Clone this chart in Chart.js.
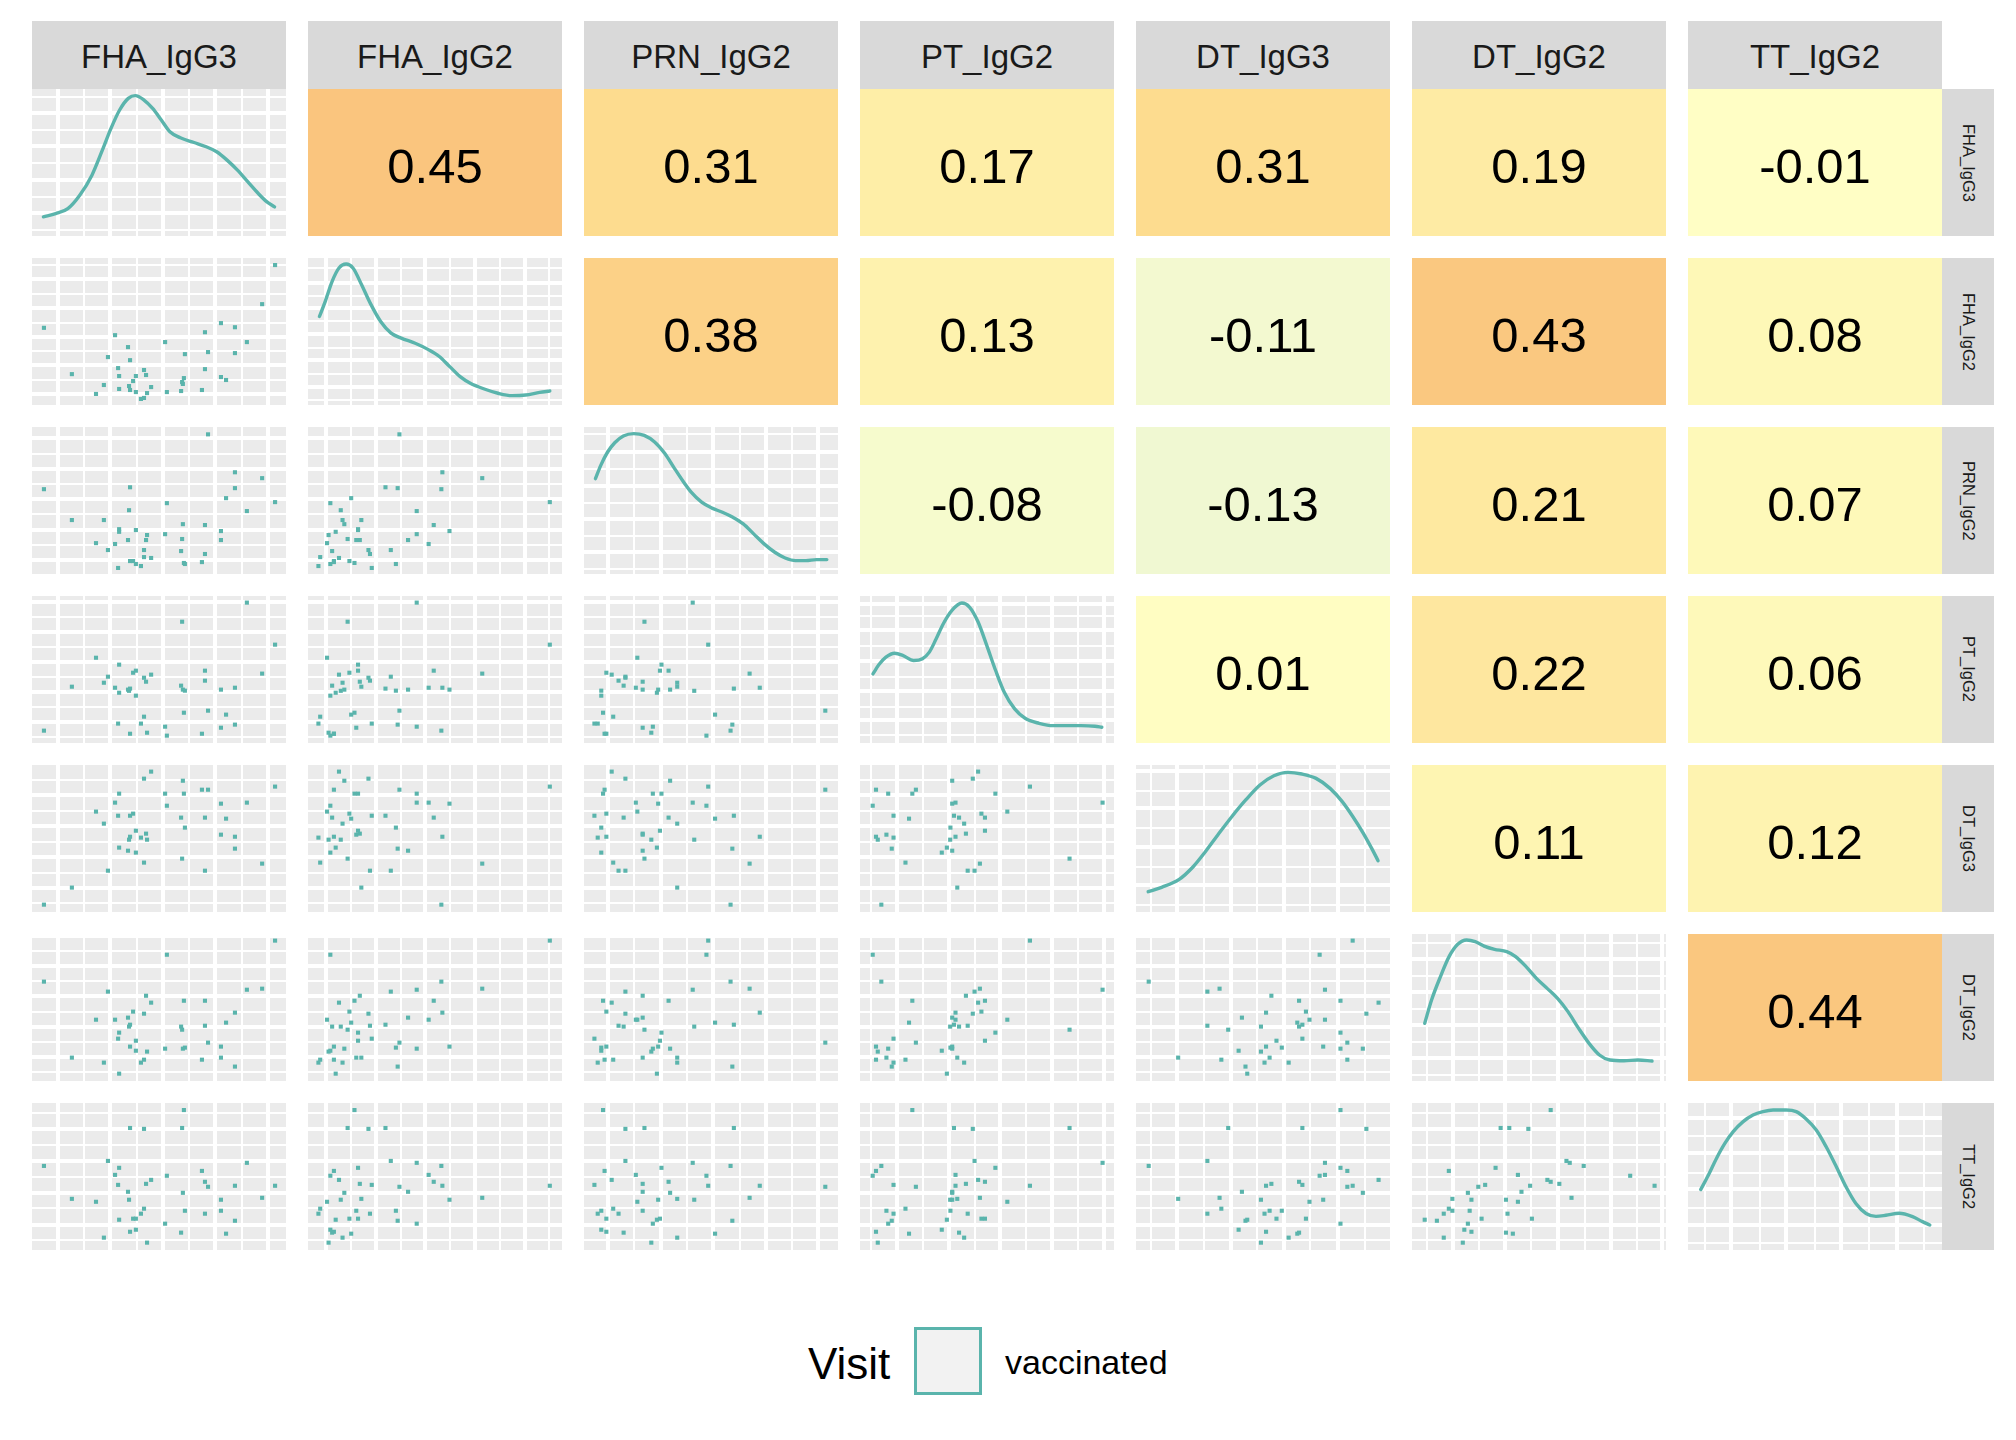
<!DOCTYPE html>
<html><head><meta charset="utf-8">
<script src="https://cdn.jsdelivr.net/npm/chart.js@4.4.1/dist/chart.umd.min.js"></script>
<style>
html,body{margin:0;padding:0;background:#fff;}
body{width:2016px;height:1440px;position:relative;overflow:hidden;font-family:"Liberation Sans",Arial,sans-serif;}
canvas{position:absolute;}
.stripT{position:absolute;background:#D9D9D9;color:#1A1A1A;font-size:33px;display:flex;align-items:center;justify-content:center;padding-top:3px;box-sizing:border-box;}
.stripR{position:absolute;background:#D9D9D9;color:#1A1A1A;font-size:16.5px;display:flex;align-items:center;justify-content:center;writing-mode:vertical-rl;}
.txt{position:absolute;color:#000;line-height:1;white-space:nowrap;}
</style></head><body>
<script>
// ---------------- DATA ----------------
const varNames = ['FHA_IgG3','FHA_IgG2','PRN_IgG2','PT_IgG2','DT_IgG3','DT_IgG2','TT_IgG2'];
const legendTitle = 'Visit';
const legendLevels = ['vaccinated'];

// observations (41 subjects), values on each panel's own scale (0-100)
const FHA_IgG3 = [4.7,15.7,25.2,28.3,29.9,32.7,33.9,34.3,34.3,37.8,38.2,38.6,38.6,39.8,40.9,40.9,42.9,44.1,44.1,44.9,45.3,46.9,52.4,53.1,58.7,59.1,59.4,59.8,60.2,66.9,68.1,68.1,69.3,74.4,74.4,76.4,79.9,79.9,84.6,90.6,95.7];
const FHA_IgG2 = [52.5,21.0,7.5,13.6,32.6,47.5,25.1,19.7,10.9,39.4,12.9,30.5,10.2,16.3,19.7,8.8,4.1,23.8,4.8,20.4,8.1,12.2,42.8,8.8,9.5,15.6,14.3,18.3,34.6,10.2,49.5,24.4,36.0,55.7,19.0,17.0,52.9,35.3,42.8,68.6,95.2];
const PRN_IgG2 = [57.7,36.7,21.0,36.7,16.3,20.4,4.1,30.5,28.7,23.1,43.4,59.0,8.8,8.8,29.9,6.8,5.4,16.3,11.5,23.1,26.5,10.9,27.1,48.2,15.6,23.8,33.9,7.5,6.8,8.1,33.3,13.6,95.0,29.2,23.1,51.6,69.2,58.4,42.8,65.2,48.9];
const PT_IgG2 = [8.4,38.3,58.0,41.0,45.1,37.6,13.2,53.3,34.2,36.3,35.5,37.0,6.3,47.8,49.2,32.2,13.2,44.4,17.9,41.7,7.0,46.5,11.1,5.0,39.0,82.5,36.3,20.6,35.6,6.3,49.2,42.4,22.0,36.3,10.4,19.3,37.6,12.5,95.5,47.2,66.9];
const DT_IgG3 = [5.0,16.6,68.3,60.1,28.1,74.4,65.5,80.5,43.8,41.7,49.2,65.5,51.2,66.9,55.3,40.4,50.6,90.7,33.6,53.3,49.2,95.5,80.5,72.3,64.2,36.3,89.3,80.5,57.4,83.2,64.2,28.1,83.2,73.7,52.6,63.5,51.2,43.1,74.4,32.9,85.3];
const DT_IgG2 = [67.6,15.9,41.7,12.5,60.8,41.7,28.8,32.9,5.0,43.1,37.0,38.3,23.4,47.2,27.4,20.6,12.5,45.8,14.5,58.0,20.0,53.3,22.0,85.9,37.0,34.9,22.0,54.6,22.7,14.5,54.6,37.6,26.1,23.4,15.9,39.7,46.5,9.8,62.1,62.8,95.5];
const TT_IgG2 = [57.2,34.8,32.8,8.4,60.6,51.1,44.3,55.9,20.6,39.6,34.2,83.0,12.4,21.3,21.3,13.8,24.7,82.4,28.1,45.0,5.0,47.7,17.9,50.5,11.8,83.0,38.9,95.2,26.7,53.8,46.4,24.7,43.0,34.2,26.7,11.1,43.7,19.9,59.3,35.5,43.7];

// density curves (diagonal), x on variable scale, y on density scale (0-100)
const densFHA_IgG3_x = [4.5,9.3,14.1,18.8,23.6,27.7,31.1,34.5,37.9,40.7,44.1,47.5,50.9,54.3,58.4,63.8,68.6,72.7,76.8,80.9,85.0,89.1,92.5,95.5];
const densFHA_IgG3_y = [13.0,15.2,18.6,27.7,41.4,58.4,73.2,85.7,93.6,95.5,92.5,86.8,78.9,70.9,66.8,63.6,60.7,57.3,51.6,44.8,36.8,28.9,23.2,19.8];
const densFHA_IgG2_x = [4.5,6.8,9.5,12.2,15.0,17.7,21.1,24.5,28.6,32.7,36.7,42.2,47.6,51.7,55.8,59.9,63.9,69.4,74.8,80.3,85.7,91.2,95.2];
const densFHA_IgG2_y = [60.2,70.5,84.1,93.2,95.9,93.2,81.8,69.3,56.8,48.9,45.5,42.0,37.5,33.0,26.1,19.3,14.8,10.9,8.0,6.4,6.8,8.6,9.5];
const densPRN_IgG2_x = [4.5,6.6,9.3,12.1,15.5,19.6,23.7,27.8,31.9,35.3,38.8,42.2,46.3,50.4,54.5,58.6,62.7,66.8,70.9,75.1,79.2,83.3,87.4,91.5,95.6];
const densPRN_IgG2_y = [64.8,73.9,83.0,89.3,93.9,95.5,94.3,89.8,81.8,72.7,63.6,55.7,48.9,44.8,42.0,38.6,34.1,27.3,20.5,14.8,10.9,9.1,9.1,9.8,9.8];
const densPT_IgG2_x = [5.1,7.4,10.2,13.6,17.0,21.1,24.6,27.3,30.0,32.8,36.2,40.1,43.1,46.5,49.9,53.4,56.8,60.9,65.0,70.5,76.0,81.5,87.0,92.5,95.2];
const densPT_IgG2_y = [47.0,53.2,58.4,61.1,59.5,56.1,57.3,61.8,70.9,81.1,90.2,95.2,92.5,82.3,66.4,49.3,34.5,23.2,16.8,13.4,11.8,11.8,11.8,11.4,10.7];
const densDT_IgG3_x = [4.8,10.1,17.0,22.5,27.3,32.2,37.7,43.2,48.8,54.3,59.8,65.3,70.9,76.4,81.2,85.4,89.5,93.0,95.3];
const densDT_IgG3_y = [13.8,16.8,22.2,30.8,41.0,52.4,64.8,76.2,86.4,92.7,95.0,93.9,90.9,84.1,75.1,64.8,53.5,42.6,34.9];
const densDT_IgG2_x = [5.0,7.7,11.2,14.6,18.0,21.5,24.9,28.4,32.5,37.3,40.8,44.9,49.0,53.2,57.3,61.4,65.6,69.7,73.8,77.9,83.5,89.0,94.5];
const densDT_IgG2_y = [39.2,55.1,71.0,84.6,93.0,95.9,94.8,91.8,89.6,88.0,84.6,77.8,69.8,63.0,56.2,47.2,35.8,25.6,17.7,14.3,13.8,14.3,13.6];
const densTT_IgG2_x = [5.0,8.0,11.2,14.5,17.8,21.7,25.6,29.5,33.5,38.7,42.6,46.3,50.5,54.4,58.4,62.2,66.1,70.1,74.0,77.9,83.1,88.4,92.3,95.2];
const densTT_IgG2_y = [41.1,50.9,62.3,72.5,80.5,87.3,91.8,94.1,95.2,95.2,94.1,89.5,81.6,70.2,56.6,43.0,31.6,24.8,22.9,23.6,25.0,22.7,19.3,17.0];

// correlations (upper triangle), row variable vs following variables
const corrFHA_IgG3 = [0.45, 0.31, 0.17, 0.31, 0.19, -0.01];
const corrFHA_IgG2 = [0.38, 0.13, -0.11, 0.43, 0.08];
const corrPRN_IgG2 = [-0.08, -0.13, 0.21, 0.07];
const corrPT_IgG2 = [0.01, 0.22, 0.06];
const corrDT_IgG3 = [0.11, 0.12];
const corrDT_IgG2 = [0.44];

// axis break positions (major / minor) per variable, and density-axis breaks
const breaksFHA_IgG3 = {major:[10.2,30.7,51.6,72.0,92.9], minor:[20.5,41.2,61.7,82.6]};
const breaksFHA_IgG2 = {major:[7.2,26.9,46.2,65.8,85.5], minor:[17.0,36.7,56.1,75.6,95.0]};
const breaksPRN_IgG2 = {major:[9.5,30.2,50.9,71.6,92.3], minor:[19.85,40.55,61.25,81.95]};
const breaksPT_IgG2 = {major:[14.5,34.9,55.3,75.7,96.1], minor:[4.3,24.7,45.1,65.5,85.9]};
const breaksDT_IgG3 = {major:[16.3,37.4,58.3,79.6], minor:[5.9,26.8,47.6,68.7,90.0]};
const breaksDT_IgG2 = {major:[16.3,36.7,57.6,78.2,98.6], minor:[5.9,26.5,46.9,68.0,88.4]};
const breaksTT_IgG2 = {major:[17.0,38.7,60.4,82.1], minor:[6.6,28.3,50.0,71.3,93.0]};
const densBreaksFHA_IgG3 = [4.1,15.5,26.8,38.2,49.8,60.9,72.3,83.6,94.5];
const densBreaksFHA_IgG2 = [3.6,12.5,21.4,30.5,39.1,48.2,57.3,65.9,74.1,83.2,93.2];
const densBreaksPRN_IgG2 = [3.2,14.8,25.9,37.5,48.2,59.8,71.4,82.7,95.2];
const densBreaksPT_IgG2 = [5.5,15.5,24.8,35.2,45.0,55.9,65.9,77.0,86.4,94.8];
const densBreaksDT_IgG3 = [5.0,18.1,30.8,44.0,56.9,70.5,82.5,95.7];
const densBreaksDT_IgG2 = [4.3,15.5,26.7,37.9,49.1,60.3,71.5,82.7,93.9];
const densBreaksTT_IgG2 = [5.0,17.3,28.6,41.6,52.7,65.7,77.7,89.8];

// ---------------- assemble ----------------
const values = [FHA_IgG3, FHA_IgG2, PRN_IgG2, PT_IgG2, DT_IgG3, DT_IgG2, TT_IgG2];
const densX = [densFHA_IgG3_x, densFHA_IgG2_x, densPRN_IgG2_x, densPT_IgG2_x, densDT_IgG3_x, densDT_IgG2_x, densTT_IgG2_x];
const densY = [densFHA_IgG3_y, densFHA_IgG2_y, densPRN_IgG2_y, densPT_IgG2_y, densDT_IgG3_y, densDT_IgG2_y, densTT_IgG2_y];
const corrRows = [corrFHA_IgG3, corrFHA_IgG2, corrPRN_IgG2, corrPT_IgG2, corrDT_IgG3, corrDT_IgG2];
const breaks = [breaksFHA_IgG3, breaksFHA_IgG2, breaksPRN_IgG2, breaksPT_IgG2, breaksDT_IgG3, breaksDT_IgG2, breaksTT_IgG2];
const densBreaks = [densBreaksFHA_IgG3, densBreaksFHA_IgG2, densBreaksPRN_IgG2, densBreaksPT_IgG2, densBreaksDT_IgG3, densBreaksDT_IgG2, densBreaksTT_IgG2];

const TEAL = '#5AB4AC';
const LAY = {x0:32, y0:89, dx:276, dy:169, w:254, h:147, stripTop:21, stripH:68, stripRW:52};

Chart.defaults.font.family = '"Liberation Sans", Arial, sans-serif';

const colorStops = [
  [-0.13,[240,248,210]],[-0.01,[255,254,197]],[0.08,[254,248,183]],
  [0.2,[254,234,162]],[0.31,[253,220,143]],[0.45,[250,197,126]]
];
function corrColor(v){
  if (v <= colorStops[0][0]) return 'rgb('+colorStops[0][1].join(',')+')';
  for (let i=1;i<colorStops.length;i++){
    if (v <= colorStops[i][0]){
      const a=colorStops[i-1], b=colorStops[i], t=(v-a[0])/(b[0]-a[0]);
      const c=a[1].map((q,k)=>Math.round(q+(b[1][k]-q)*t));
      return 'rgb('+c.join(',')+')';
    }
  }
  return 'rgb('+colorStops[colorStops.length-1][1].join(',')+')';
}

function makeCanvas(x,y,w,h){
  const c=document.createElement('canvas');
  c.width=w; c.height=h;
  c.style.left=x+'px'; c.style.top=y+'px'; c.style.width=w+'px'; c.style.height=h+'px';
  document.body.appendChild(c);
  return c;
}

const panelBg = {id:'panelBg', beforeDraw(chart){
  const a=chart.chartArea, ctx=chart.ctx;
  ctx.save(); ctx.fillStyle='#EBEBEB'; ctx.fillRect(a.left,a.top,a.right-a.left,a.bottom-a.top); ctx.restore();
}};

function gridAxis(major, minor){
  return {
    type:'linear', min:0, max:100, display:true,
    ticks:{display:false}, border:{display:false},
    grid:{drawTicks:false, color:'#FFFFFF', lineWidth: ctx => (ctx.tick && ctx.tick.isMajor) ? 4 : 2},
    afterBuildTicks: s => {
      s.ticks = major.map(v=>({value:v,isMajor:true})).concat(minor.map(v=>({value:v,isMajor:false})));
    }
  };
}

function baseOptions(){
  return {
    responsive:false, animation:false, events:[],
    layout:{padding:0, autoPadding:false},
    plugins:{legend:{display:false}, tooltip:{enabled:false}}
  };
}

for (let r=0;r<7;r++){
  for (let c=0;c<7;c++){
    const px = LAY.x0 + c*LAY.dx, py = LAY.y0 + r*LAY.dy;
    const cv = makeCanvas(px, py, LAY.w, LAY.h);
    if (r > c){
      const pts = values[c].map((xv,i)=>({x:xv, y:values[r][i]}));
      const o = baseOptions();
      o.scales = {x: gridAxis(breaks[c].major, breaks[c].minor), y: gridAxis(breaks[r].major, breaks[r].minor)};
      new Chart(cv, {type:'scatter',
        data:{datasets:[{data:pts, pointStyle:'rect', pointRadius:2.9, backgroundColor:TEAL, borderWidth:0}]},
        options:o, plugins:[panelBg]});
    } else if (r === c){
      const dy = densBreaks[r];
      const pts = densX[r].map((xv,i)=>({x:xv, y:densY[r][i]}));
      const o = baseOptions();
      o.scales = {
        x: gridAxis(breaks[c].major, breaks[c].minor),
        y: gridAxis(dy.filter((_,i)=>i%2===1), dy.filter((_,i)=>i%2===0))
      };
      new Chart(cv, {type:'scatter',
        data:{datasets:[{data:pts, showLine:true, pointRadius:0, borderColor:TEAL, borderWidth:3.4,
          cubicInterpolationMode:'monotone', borderCapStyle:'round', borderJoinStyle:'round', clip:false}]},
        options:o, plugins:[panelBg]});
    } else {
      const v = corrRows[r][c-r-1];
      const label = v.toFixed(2);
      const o = baseOptions();
      o.scales = {x:{display:false}, y:{display:false, min:0, max:1}};
      const lab = {id:'corrLabel', afterDatasetsDraw(chart){
        const el = chart.getDatasetMeta(0).data[0];
        const ctx = chart.ctx;
        const cx = el.x, cy = (el.y + el.base)/2;
        ctx.save();
        ctx.font = '49px "Liberation Sans", Arial, sans-serif';
        ctx.fillStyle = '#000000';
        ctx.textAlign = 'center'; ctx.textBaseline = 'alphabetic';
        ctx.fillText(label, cx, cy + 20);
        ctx.restore();
      }};
      new Chart(cv, {type:'bar',
        data:{labels:[varNames[r]+' vs '+varNames[c]], datasets:[{data:[1], backgroundColor:corrColor(v), borderWidth:0,
          barPercentage:1, categoryPercentage:1}]},
        options:o, plugins:[lab]});
    }
  }
}

// strips
varNames.forEach((n,i)=>{
  const d=document.createElement('div'); d.className='stripT';
  d.style.left=(LAY.x0+i*LAY.dx)+'px'; d.style.top=LAY.stripTop+'px';
  d.style.width=LAY.w+'px'; d.style.height=LAY.stripH+'px';
  d.textContent=n; document.body.appendChild(d);
  const e=document.createElement('div'); e.className='stripR';
  e.style.left=(LAY.x0+6*LAY.dx+LAY.w)+'px'; e.style.top=(LAY.y0+i*LAY.dy)+'px';
  e.style.width=LAY.stripRW+'px'; e.style.height=LAY.h+'px';
  e.textContent=n; document.body.appendChild(e);
});

// legend
(function(){
  const t=document.createElement('div'); t.className='txt';
  t.style.left='808px'; t.style.top='1342px'; t.style.fontSize='44px'; t.textContent=legendTitle;
  document.body.appendChild(t);
  const k=document.createElement('div');
  k.style.cssText='position:absolute;left:914px;top:1327px;width:68px;height:68px;box-sizing:border-box;border:3.5px solid '+TEAL+';background:#F2F2F2;';
  document.body.appendChild(k);
  const l=document.createElement('div'); l.className='txt';
  l.style.left='1005px'; l.style.top='1345px'; l.style.fontSize='34px'; l.textContent=legendLevels[0];
  document.body.appendChild(l);
})();
</script>
</body></html>
